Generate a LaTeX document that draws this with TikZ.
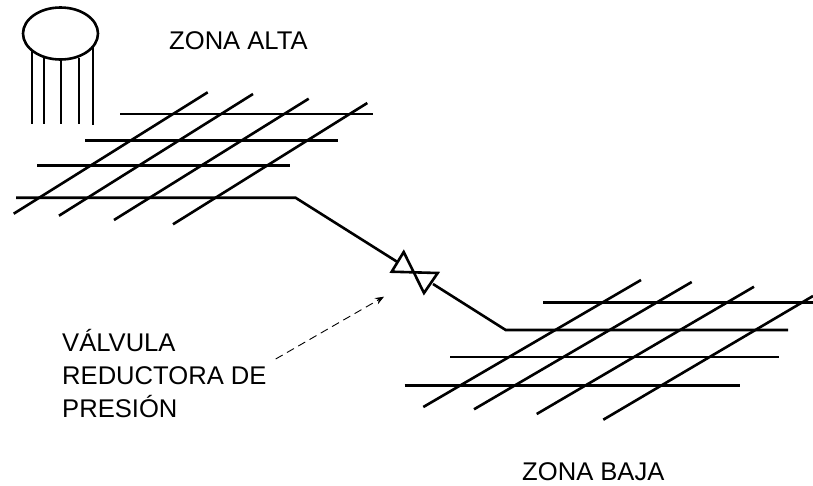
\documentclass[tikz,border=0pt]{standalone}
\usepackage{fontspec}
\usetikzlibrary{shapes.geometric, arrows.meta}
\setmainfont{Liberation Sans}

\tikzset{
    pipe/.style = {line width=2.6pt},
    label text/.style = {inner sep=0pt, font=\fontsize{25.6}{33}\selectfont}
}

\begin{document}
\begin{tikzpicture}[x=1pt, y=-1pt]

    \useasboundingbox (0,0) rectangle (813,485);

    % tank
    \node (tank) [draw, pipe, ellipse, minimum width=75pt, minimum height=52pt, inner sep=0pt] at (60.5,33.5) {};
    \draw [pipe] (32,50) -- (32,123.5);
    \draw [pipe] (44,57) -- (44,123.5);
    \draw [pipe] (61,60) -- (61,123.5);
    \draw [pipe] (79,58) -- (79,124);
    \draw [pipe] (93,47) -- (93,124.5);

    % upper mesh
    \draw [pipe] (120,114) -- (373,114);
    \draw [pipe] (85,140.5) -- (338,140.5);
    \draw [pipe] (37,165.7) -- (290,165.7);
    \draw [pipe] (13.7,213.7) -- (207.7,92.3);
    \draw [pipe] (59,215.7) -- (253,94);
    \draw [pipe] (114,220) -- (308.7,98.7);
    \draw [pipe] (173,224.3) -- (367.3,103);

    % lower mesh
    \draw [pipe] (543,302.7) -- (813,302.7);
    \draw [pipe] (450,357) -- (778.7,357);
    \draw [pipe] (404.7,385.3) -- (739.7,385.3);
    \draw [pipe] (423.3,407) -- (641,280);
    \draw [pipe] (474,409.3) -- (691.7,282);
    \draw [pipe] (536.7,414) -- (754,286.7);
    \draw [pipe] (603.3,419.7) -- (813,296);

    % pipe and valve
    \coordinate (valve in) at (397,261.7);
    \coordinate (valve out) at (433,284);
    \draw [pipe] (16,197.7) -- (295.5,197.7) -- (valve in);
    \draw [pipe] (valve out) -- (505.7,330) -- (788,330);
    \draw [pipe] (391.7,271.7) -- (437.7,273) -- (424,293) -- (403.7,252) -- cycle;

    % labels
    \node (alta) [label text, anchor=base west] at (169,49.5) {ZONA ALTA};
    \node (baja) [label text, anchor=base west] at (522,480) {ZONA BAJA};
    \node (valvula) [label text, anchor=north west, align=left] at (62,329) {VÁLVULA\\REDUCTORA DE\\PRESIÓN};

    \coordinate (arrow start) at (275.7,359);
    \coordinate (arrow end) at (384,296.7);
    \draw [-{Stealth[length=9pt,width=7pt]}, dash pattern=on 8pt off 5pt, line width=0.9pt] (arrow start) -- (arrow end);

\end{tikzpicture}
\end{document}
